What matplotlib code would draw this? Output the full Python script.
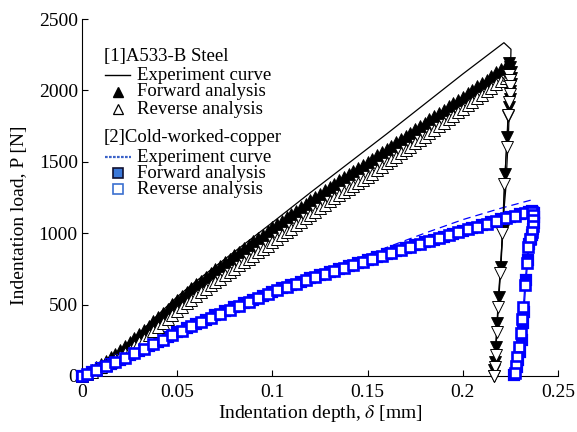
import matplotlib
matplotlib.use("Agg")
import matplotlib.pyplot as plt
from matplotlib.lines import Line2D

plt.rcParams['font.family'] = ['Liberation Serif', 'DejaVu Serif']
plt.rcParams['mathtext.fontset'] = 'stix'

# ---------------- data ----------------
# A533-B steel : experiment curve (loading + unloading)
steel_exp_depth = [0, 0.01, 0.02, 0.03, 0.04, 0.05, 0.06, 0.08, 0.10, 0.12, 0.14, 0.16,
                   0.18, 0.20, 0.2216, 0.2253, 0.2250, 0.2240, 0.2225, 0.2213, 0.2200,
                   0.2187, 0.2175, 0.2165]
steel_exp_load = [0, 90, 185, 300, 430, 555, 665, 870, 1075, 1285, 1490, 1695,
                  1905, 2115, 2334, 2288, 2100, 1700, 1300, 1112, 800,
                  554, 250, 0]

# steel analyses (loading) depths
steel_load_depth = [0, 0.0025, 0.005, 0.0075, 0.01, 0.0125, 0.015, 0.0175, 0.02, 0.0225,
                    0.025, 0.0275, 0.03, 0.0325, 0.035, 0.0375, 0.04, 0.0425, 0.045, 0.0475,
                    0.05, 0.0525, 0.055, 0.0575, 0.06, 0.0625, 0.065, 0.0675, 0.07, 0.0725,
                    0.075, 0.0775, 0.08, 0.0825, 0.085, 0.0875, 0.09, 0.0925, 0.095, 0.0975,
                    0.10, 0.1025, 0.105, 0.1075, 0.11, 0.1125, 0.115, 0.1175, 0.12, 0.1225,
                    0.125, 0.1275, 0.13, 0.1325, 0.135, 0.1375, 0.14, 0.1425, 0.145, 0.1475,
                    0.15, 0.1525, 0.155, 0.1575, 0.16, 0.1625, 0.165, 0.1675, 0.17, 0.1725,
                    0.175, 0.1775, 0.18, 0.1825, 0.185, 0.1875, 0.19, 0.1925, 0.195, 0.1975,
                    0.20, 0.2025, 0.205, 0.2075, 0.21, 0.2125, 0.215, 0.2175, 0.22, 0.2225,
                    0.2245]
# steel forward analysis (loading)
steel_fwd_load_load = [0, 20, 42, 62, 85, 108, 132, 156, 182, 208,
                       236, 264, 293, 322, 352, 382, 412, 442, 472, 502,
                       532, 560, 588, 615, 642, 668, 694, 720, 746, 771,
                       797, 821, 846, 869, 894, 917, 943, 965, 990, 1013,
                       1040, 1062, 1086, 1110, 1136, 1158, 1182, 1206, 1232, 1253,
                       1277, 1300, 1325, 1346, 1370, 1393, 1418, 1436, 1457, 1478,
                       1498, 1522, 1545, 1567, 1591, 1613, 1636, 1660, 1682, 1705,
                       1728, 1750, 1773, 1797, 1819, 1842, 1865, 1888, 1911, 1934,
                       1957, 1980, 2004, 2028, 2052, 2076, 2100, 2126, 2150, 2172,
                       2190]
# steel reverse analysis (loading)
steel_rev_load_load = [0, 15, 30, 46, 62, 80, 98, 118, 138, 160,
                       184, 209, 235, 262, 290, 318, 346, 374, 402, 430,
                       458, 484, 510, 535, 560, 585, 610, 634, 658, 682,
                       705, 727, 750, 774, 797, 820, 843, 866, 890, 913,
                       937, 961, 985, 1008, 1032, 1056, 1080, 1104, 1128, 1151,
                       1175, 1198, 1222, 1245, 1268, 1290, 1313, 1334, 1355, 1375,
                       1395, 1418, 1442, 1466, 1490, 1513, 1536, 1559, 1582, 1606,
                       1630, 1653, 1677, 1701, 1725, 1750, 1774, 1798, 1822, 1847,
                       1872, 1896, 1921, 1946, 1971, 1995, 2020, 2044, 2068, 2090,
                       2110]
# steel forward analysis (unloading)
steel_fwd_unl_depth = [0.2245, 0.2249, 0.2251, 0.2252, 0.2251, 0.2249, 0.2246, 0.2242, 0.2237,
                       0.2232, 0.2222, 0.2211, 0.2200, 0.2190, 0.2180, 0.2173, 0.2168, 0.2165,
                       0.2163]
steel_fwd_unl_load = [2190, 2165, 2130, 2090, 2045, 1995, 1940, 1885, 1820,
                      1671, 1417, 1020, 760, 552, 370, 200, 100, 40,
                      0]
# steel reverse analysis (unloading)
steel_rev_unl_depth = [0.2245, 0.2248, 0.2248, 0.2246, 0.2243, 0.2239, 0.2230, 0.2218, 0.2208,
                       0.2196, 0.2186, 0.2180, 0.2172, 0.2167, 0.2165]
steel_rev_unl_load = [2110, 2075, 2030, 1975, 1916, 1830, 1601, 1348, 1000,
                      720, 484, 309, 150, 60, 0]

# Cold-worked copper : experiment curve (loading)
cu_exp_depth = [0, 0.02, 0.04, 0.06, 0.08, 0.10, 0.12, 0.14, 0.16, 0.18, 0.20, 0.22, 0.237]
cu_exp_load = [0, 115, 245, 370, 485, 595, 700, 800, 900, 1000, 1095, 1175, 1236]

# copper forward analysis (loading + unloading)
cu_fwd_depth = [0, 0.005, 0.01, 0.015, 0.02, 0.025, 0.03, 0.035, 0.04, 0.045, 0.05,
                0.055, 0.06, 0.065, 0.07, 0.075, 0.08, 0.085, 0.09, 0.095, 0.10,
                0.105, 0.11, 0.115, 0.12, 0.125, 0.13, 0.135, 0.14, 0.145, 0.15,
                0.155, 0.16, 0.165, 0.17, 0.175, 0.18, 0.185, 0.19, 0.195, 0.20,
                0.205, 0.21, 0.215, 0.22, 0.225, 0.23, 0.235, 0.2365,
                0.2372, 0.2374, 0.2373, 0.2370, 0.2365, 0.2356, 0.2346, 0.2342, 0.2332,
                0.2321, 0.2314, 0.2309, 0.2300, 0.2291, 0.2283, 0.2270]
cu_fwd_load = [0, 28, 57, 85, 114, 145, 176, 207, 240, 272, 305,
               335, 366, 395, 425, 452, 480, 508, 535, 562, 590,
               613, 638, 660, 683, 705, 727, 748, 769, 790, 810,
               832, 853, 874, 894, 915, 935, 955, 975, 997, 1018,
               1038, 1058, 1078, 1098, 1115, 1132, 1148, 1155,
               1140, 1110, 1070, 1030, 990, 960, 927, 810, 670,
               449, 370, 251, 170, 112, 65, 7]

# copper reverse analysis (loading + unloading)
cu_rev_depth = [0, 0.0025, 0.0075, 0.0125, 0.0175, 0.0225, 0.0275, 0.0325, 0.0375, 0.0425,
                0.0475, 0.0525, 0.0575, 0.0625, 0.0675, 0.0725, 0.0775, 0.0825, 0.0875,
                0.0925, 0.0975, 0.1025, 0.1075, 0.1125, 0.1175, 0.1225, 0.1275, 0.1325,
                0.1375, 0.1425, 0.1475, 0.1525, 0.1575, 0.1625, 0.1675, 0.1725, 0.1775,
                0.1825, 0.1875, 0.1925, 0.1975, 0.2025, 0.2075, 0.2125, 0.2175, 0.2225,
                0.2275, 0.2325, 0.2365,
                0.2370, 0.2371, 0.2368, 0.2362, 0.2352, 0.2344, 0.2336, 0.2326, 0.2318,
                0.2311, 0.2304, 0.2296, 0.2287, 0.2279, 0.2272]
cu_rev_load = [0, 12, 40, 69, 98, 128, 158, 190, 222, 254,
               287, 318, 349, 379, 408, 437, 465, 492, 520,
               547, 574, 600, 624, 647, 670, 692, 714, 736,
               757, 778, 798, 820, 841, 862, 882, 903, 923,
               943, 963, 984, 1005, 1026, 1046, 1066, 1086, 1104,
               1121, 1138, 1150,
               1125, 1090, 1050, 1005, 960, 900, 790, 640, 480,
               400, 300, 205, 135, 70, 20]

x_ticks = [0, 0.05, 0.1, 0.15, 0.2, 0.25]
x_tick_labels = ["0", "0.05", "0.1", "0.15", "0.2", "0.25"]
y_ticks = [0, 500, 1000, 1500, 2000, 2500]
y_tick_labels = ["0", "500", "1000", "1500", "2000", "2500"]

# ---------------- figure ----------------
W, H = 577, 432
fig = plt.figure(figsize=(W / 100, H / 100), dpi=100)
ax = fig.add_axes([82 / W, 1 - 376 / H, (558 - 82) / W, (376 - 19) / H])

BLUE = '#0000ff'
ms_tri = 9
ms_sq = 7.8

# steel
ax.plot(steel_exp_depth, steel_exp_load, color='k', lw=0.9, zorder=2, clip_on=False)
ax.plot(steel_load_depth, steel_fwd_load_load, '-^', color='k', mfc='k', mec='k',
        ms=ms_tri, lw=0.8, mew=0.6, zorder=3, clip_on=False)
ax.plot(steel_fwd_unl_depth, steel_fwd_unl_load, '-v', color='k', mfc='k', mec='k',
        ms=ms_tri, lw=0.8, mew=0.6, zorder=3, clip_on=False)
ax.plot(steel_load_depth, steel_rev_load_load, '-^', color='k', mfc='white', mec='k',
        ms=ms_tri, lw=0.8, mew=0.7, zorder=4, clip_on=False)
ax.plot(steel_rev_unl_depth, steel_rev_unl_load, '-v', color='k', mfc='white', mec='k',
        ms=ms_tri, lw=0.8, mew=0.7, zorder=4, clip_on=False)

# copper
ax.plot(cu_exp_depth, cu_exp_load, color=BLUE, lw=0.9, ls=(0, (6, 4)), zorder=2, clip_on=False)
ax.plot(cu_fwd_depth, cu_fwd_load, '-s', color=BLUE, mfc=BLUE, mec=BLUE,
        ms=ms_sq, lw=0.9, mew=1.6, zorder=3, clip_on=False)
ax.plot(cu_rev_depth, cu_rev_load, '-s', color=BLUE, mfc='white', mec=BLUE,
        ms=ms_sq, lw=0.9, mew=1.9, zorder=4, clip_on=False)

ax.set_xlim(0, 0.25)
ax.set_ylim(0, 2500)
ax.set_xticks(x_ticks)
ax.set_xticklabels(x_tick_labels)
ax.set_yticks(y_ticks)
ax.set_yticklabels(y_tick_labels)
for s in ['top', 'right']:
    ax.spines[s].set_visible(False)
for s in ['left', 'bottom']:
    ax.spines[s].set_linewidth(0.8)
ax.tick_params(direction='in', length=4, width=0.8, labelsize=14, pad=3)
ax.tick_params(axis='x', pad=6)

ax.set_xlabel(r"Indentation depth, $\delta$ [mm]", fontsize=14, labelpad=1)
ax.set_ylabel("Indentation load, P [N]", fontsize=14)
ax.yaxis.set_label_coords(-0.113, 0.451)

# ---------------- legend (manual) ----------------
def fx(px):
    return px / W

def fy(py):
    return 1 - py / H

fs = 13.5
fig.text(fx(104), fy(57), "[1]A533-B Steel", fontsize=fs, va='center', ha='left')
fig.add_artist(Line2D([fx(105), fx(130)], [fy(75), fy(75)], color='k', lw=1.0))
fig.text(fx(137), fy(75), "Experiment curve", fontsize=fs, va='center', ha='left')
fig.add_artist(Line2D([fx(118)], [fy(92)], marker='^', ms=7, mfc='k', mec='k', ls='none'))
fig.text(fx(137), fy(92), "Forward analysis", fontsize=fs, va='center', ha='left')
fig.add_artist(Line2D([fx(118)], [fy(109)], marker='^', ms=7, mfc='white', mec='k', mew=0.9, ls='none'))
fig.text(fx(137), fy(109), "Reverse analysis", fontsize=fs, va='center', ha='left')

fig.text(fx(104), fy(137), "[2]Cold-worked-copper", fontsize=fs, va='center', ha='left')
fig.add_artist(Line2D([fx(105), fx(131)], [fy(157), fy(157)], color='#3a62c8', lw=1.6,
                      ls=(0, (1.2, 0.6))))
fig.text(fx(137), fy(157), "Experiment curve", fontsize=fs, va='center', ha='left')
fig.add_artist(Line2D([fx(118)], [fy(173)], marker='s', ms=7, mfc='#3b78d8', mec='#101030',
                      mew=1.2, ls='none'))
fig.text(fx(137), fy(173), "Forward analysis", fontsize=fs, va='center', ha='left')
fig.add_artist(Line2D([fx(118)], [fy(189)], marker='s', ms=7, mfc='white', mec='#3b6fd0',
                      mew=1.2, ls='none'))
fig.text(fx(137), fy(189), "Reverse analysis", fontsize=fs, va='center', ha='left')

fig.savefig("out.png", dpi=100)
